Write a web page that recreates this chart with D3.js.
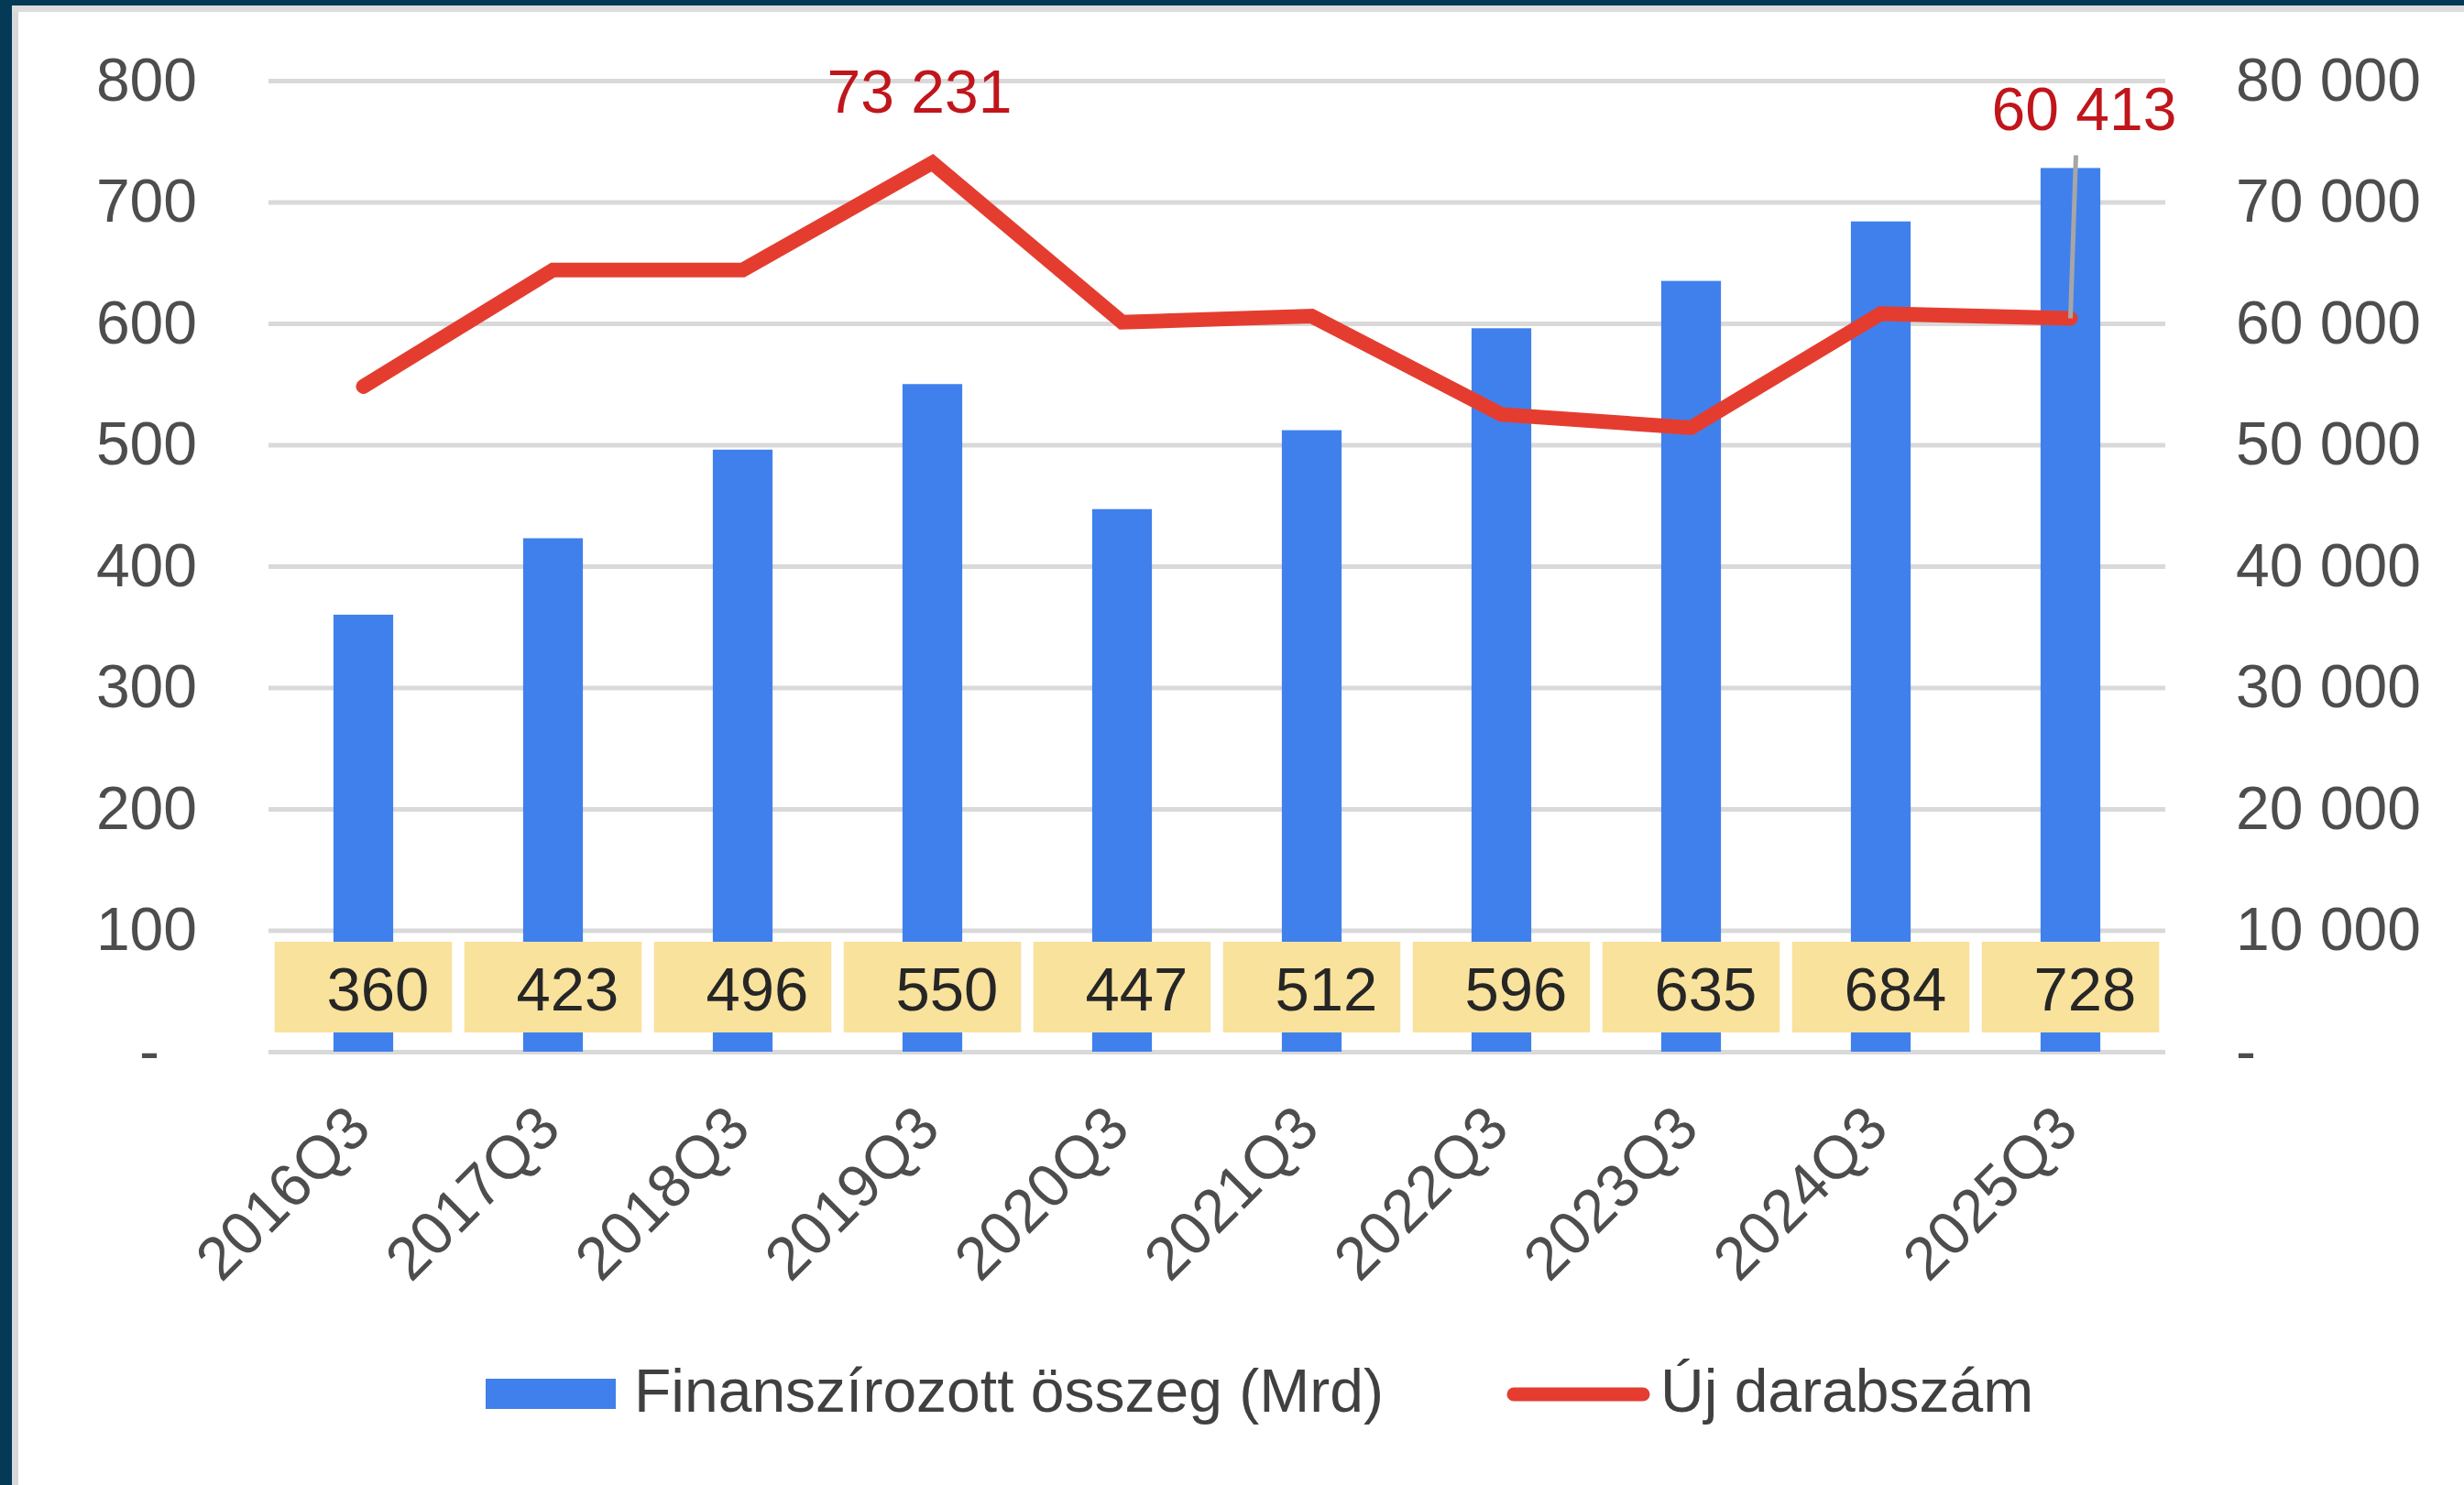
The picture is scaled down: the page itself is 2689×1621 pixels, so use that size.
<!DOCTYPE html>
<html>
<head>
<meta charset="utf-8">
<script src="https://cdn.jsdelivr.net/npm/d3@7"></script>
<style>
    body { margin: 0; background: #fff; }
    text { font-family: 'Liberation Sans', Arial, sans-serif; }
</style>
</head>
<body>
<div id="chart"></div>
<script>
// categories and the two series
var quarters = ['2016Q3', '2017Q3', '2018Q3', '2019Q3', '2020Q3', '2021Q3', '2022Q3', '2023Q3', '2024Q3', '2025Q3'];
var amounts = [360, 423, 496, 550, 447, 512, 596, 635, 684, 728];          // Finanszírozott összeg (Mrd)
var counts = [54800, 64400, 64400, 73231, 60100, 60600, 52500, 51400, 60800, 60413]; // Új darabszám
var leftTicks = [0, 100, 200, 300, 400, 500, 600, 700, 800];
var rightTicks = [0, 10000, 20000, 30000, 40000, 50000, 60000, 70000, 80000];
var seriesNames = ['Finanszírozott összeg (Mrd)', 'Új darabszám'];
var labelledPoints = [3, 9]; // line points that carry a value label

var W = 2689, H = 1621;
var margin = {top: 88, right: 326, bottom: 473, left: 293};
var width = W - margin.left - margin.right,
    height = H - margin.top - margin.bottom;

var svg = d3.select('#chart').append('svg')
    .attr('width', W)
    .attr('height', H);

// frame: navy strip left/top with soft grey shadow
svg.append('rect').attr('x', 0).attr('y', 0).attr('width', W).attr('height', H).style('fill', '#fff');
svg.append('rect').attr('x', 13).attr('y', 6).attr('width', 7).attr('height', H).style('fill', '#d8d8d8');
svg.append('rect').attr('x', 13).attr('y', 6).attr('width', W).attr('height', 7).style('fill', '#dcdcdc');
svg.append('rect').attr('x', 0).attr('y', 0).attr('width', 13).attr('height', H).style('fill', '#053a57');
svg.append('rect').attr('x', 0).attr('y', 0).attr('width', W).attr('height', 6).style('fill', '#053a57');

var chart = svg.append('g')
    .attr('transform', 'translate(' + margin.left + ',' + margin.top + ')');

// scales
var xScale = d3.scaleBand()
    .domain(quarters)
    .range([0, width])
    .padding(0);
var yLeft = d3.scaleLinear()
    .domain([0, 800])
    .range([height, 0]);
var yRight = d3.scaleLinear()
    .domain([0, 80000])
    .range([height, 0]);

var huLocale = d3.formatLocale({decimal: ',', thousands: '\u00a0', grouping: [3], currency: ['', '']});
var fmtThousands = huLocale.format(',');

// axes
function customLeftAxis(g) {
    g.call(leftAxis);
    g.select('.domain').remove();
    g.selectAll('line').style('stroke', '#d9d9d9').style('stroke-width', 5);
    g.selectAll('text')
        .style('fill', '#4d4d4d')
        .style('font-size', '66px')
        .attr('dx', function(d) { return d === 0 ? -41 : 0; });
}
var leftAxis = d3.axisLeft()
    .scale(yLeft)
    .tickValues(leftTicks)
    .tickSize(-width)
    .tickPadding(78)
    .tickFormat(function(d) { return d === 0 ? '-' : d; });
chart.append('g').call(customLeftAxis);

function customRightAxis(g) {
    g.call(rightAxis);
    g.select('.domain').remove();
    g.selectAll('text')
        .style('fill', '#4d4d4d')
        .style('font-size', '66px');
}
var rightAxis = d3.axisRight()
    .scale(yRight)
    .tickValues(rightTicks)
    .tickSize(0)
    .tickPadding(77)
    .tickFormat(function(d) { return d === 0 ? '-' : fmtThousands(d); });
chart.append('g').attr('transform', 'translate(' + width + ',0)').call(customRightAxis);

function customXAxis(g) {
    g.call(xAxis);
    g.select('.domain').remove();
    g.selectAll('text')
        .attr('x', null).attr('y', null).attr('dy', null)
        .style('text-anchor', 'end')
        .style('fill', '#4d4d4d')
        .style('font-size', '66px')
        .attr('transform', 'translate(11,87) rotate(-45)');
}
var xAxis = d3.axisBottom()
    .scale(xScale)
    .tickSize(0);
chart.append('g').attr('transform', 'translate(0,' + height + ')').call(customXAxis);

// bars
var barW = xScale.bandwidth() * 0.315;
chart.selectAll('rect.bar')
    .data(amounts)
    .enter()
    .append('rect').classed('bar', true)
    .attr('x', function(d, i) { return xScale(quarters[i]) + xScale.bandwidth() / 2 - barW / 2; })
    .attr('y', function(d) { return yLeft(d); })
    .attr('width', barW)
    .attr('height', function(d) { return height - yLeft(d); })
    .style('fill', '#4080ec');

// yellow value boxes sitting near the base
var boxW = xScale.bandwidth() * 0.935;
chart.selectAll('rect.box')
    .data(amounts)
    .enter()
    .append('rect').classed('box', true)
    .attr('x', function(d, i) { return xScale(quarters[i]) + xScale.bandwidth() / 2 - boxW / 2; })
    .attr('y', height - 120)
    .attr('width', boxW)
    .attr('height', 99)
    .style('fill', '#f9e29c');
chart.selectAll('text.amount')
    .data(amounts)
    .enter()
    .append('text').classed('amount', true)
    .text(function(d) { return d; })
    .attr('x', function(d, i) { return xScale(quarters[i]) + xScale.bandwidth() / 2 + 16; })
    .attr('y', height - 45)
    .style('text-anchor', 'middle')
    .style('font-size', '67px')
    .style('fill', '#262626');

// line
var line = d3.line()
    .x(function(d, i) { return xScale(quarters[i]) + xScale.bandwidth() / 2; })
    .y(function(d) { return yRight(d); });
chart.append('path')
    .datum(counts)
    .attr('d', line)
    .style('fill', 'none')
    .style('stroke', '#e43d30')
    .style('stroke-width', 16)
    .style('stroke-linejoin', 'miter')
    .style('stroke-linecap', 'round');

// labels on the line (the last one pulled up with a leader)
function px(i) { return xScale(quarters[i]) + xScale.bandwidth() / 2; }
var peak = labelledPoints[0], last = labelledPoints[1];
chart.append('text').text(fmtThousands(counts[peak]))
    .attr('x', px(peak) - 14)
    .attr('y', yRight(counts[peak]) - 55)
    .style('text-anchor', 'middle')
    .style('font-size', '66px')
    .style('fill', '#c0161b');
chart.append('line')
    .attr('x1', px(last)).attr('y1', yRight(counts[last]))
    .attr('x2', px(last) + 6).attr('y2', yRight(counts[last]) - 178)
    .style('stroke', '#a6a6a6')
    .style('stroke-width', 5);
chart.append('text').text(fmtThousands(counts[last]))
    .attr('x', px(last) + 15)
    .attr('y', yRight(counts[last]) - 206)
    .style('text-anchor', 'middle')
    .style('font-size', '66px')
    .style('fill', '#c0161b');

// legend
var legend = svg.append('g');
legend.append('rect')
    .attr('x', 530).attr('y', 1505)
    .attr('width', 142).attr('height', 33)
    .style('fill', '#4080ec');
legend.append('text').text(seriesNames[0])
    .attr('x', 692).attr('y', 1541)
    .style('font-size', '66px')
    .style('fill', '#404040');
legend.append('line')
    .attr('x1', 1652).attr('y1', 1522)
    .attr('x2', 1793).attr('y2', 1522)
    .style('stroke', '#e43d30')
    .style('stroke-width', 15)
    .style('stroke-linecap', 'round');
legend.append('text').text(seriesNames[1])
    .attr('x', 1812).attr('y', 1541)
    .style('font-size', '66px')
    .style('fill', '#404040');
</script>
</body>
</html>
